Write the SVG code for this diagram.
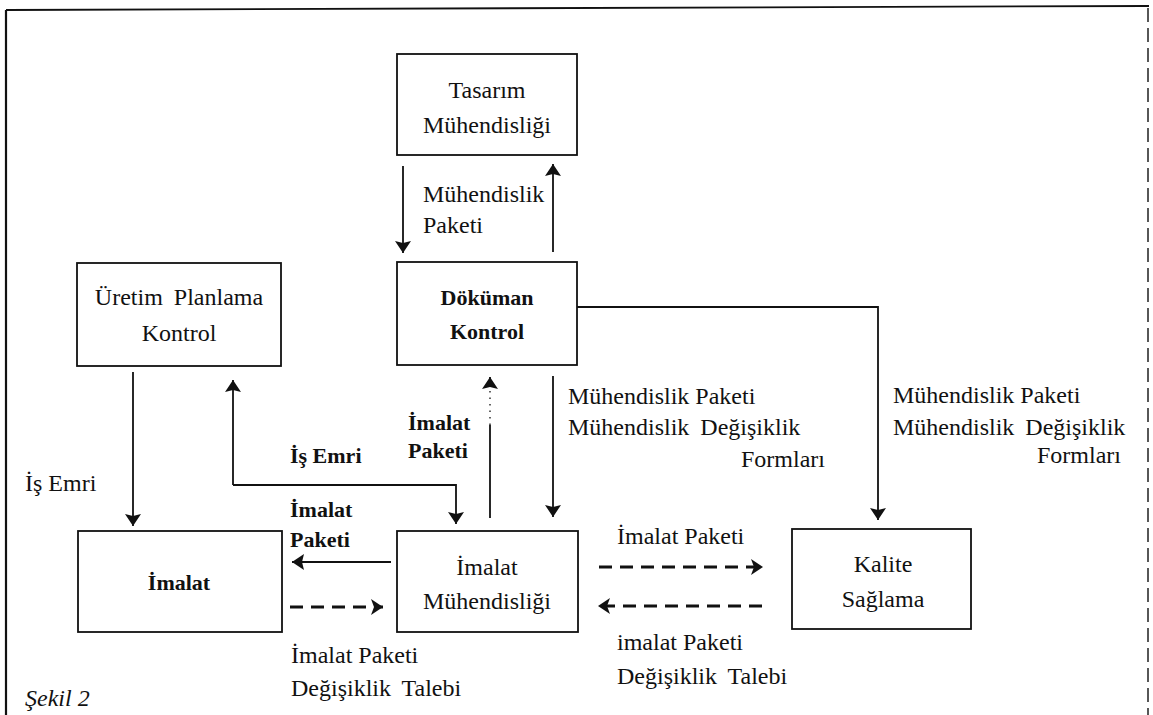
<svg xmlns="http://www.w3.org/2000/svg" width="1153" height="715" viewBox="0 0 1153 715">
<style>
  .box { fill: #fff; stroke: #111; stroke-width: 1.8; }
  .t { font-family: 'Liberation Serif', Tinos, 'Times New Roman', 'DejaVu Serif', 'Noto Serif', serif; font-size: 24px; fill: #111; }
  .b { font-family: 'Liberation Serif', Tinos, 'Times New Roman', 'DejaVu Serif', 'Noto Serif', serif; font-size: 22px; font-weight: bold; fill: #111; }
  .c { text-anchor: middle; }
  .ws { word-spacing: 5px; }
  .ln { fill: none; stroke: #111; stroke-width: 1.8; }
  .dl { fill: none; stroke: #111; stroke-width: 3.2; stroke-dasharray: 13 8; }
  .dot { fill: none; stroke: #111; stroke-width: 1.3; stroke-dasharray: 1.5 5; }
</style>
<defs>
  <marker id="ah" viewBox="0 0 12 16" refX="12" refY="8" markerWidth="12" markerHeight="16" markerUnits="userSpaceOnUse" orient="auto">
    <path d="M0,0 L12,8 L0,16 L2,8 z" fill="#111"/>
  </marker>
  <marker id="ahd" viewBox="0 0 12 16" refX="12" refY="8" markerWidth="12" markerHeight="16" markerUnits="userSpaceOnUse" orient="auto">
    <path d="M0,0 L12,8 L0,16 L3,8 z" fill="#111"/>
  </marker>
</defs>

<g id="frame">
  <line x1="6" y1="10" x2="1149" y2="6" stroke="#111" stroke-width="1.8"/>
  <line x1="6" y1="10" x2="6" y2="715" stroke="#111" stroke-width="2.2"/>
  <line x1="1148" y1="8" x2="1148" y2="715" stroke="#111" stroke-width="1.4" stroke-dasharray="14 6"/>
</g>

<g id="connectors">
  <line class="ln" x1="403" y1="166" x2="403" y2="253" marker-end="url(#ah)"/>
  <line class="ln" x1="553" y1="252" x2="553" y2="164" marker-end="url(#ah)"/>
  <line class="ln" x1="133" y1="372" x2="133" y2="526" marker-end="url(#ah)"/>
  <polyline class="ln" points="233,485 456,485 456,524" marker-end="url(#ah)"/>
  <line class="ln" x1="233" y1="485" x2="233" y2="380" marker-end="url(#ah)"/>
  <line class="ln" x1="490" y1="518" x2="490" y2="425"/>
  <line class="dot" x1="490" y1="425" x2="490" y2="385"/>
  <line class="ln" x1="490" y1="386" x2="490" y2="377" marker-end="url(#ah)"/>
  <line class="ln" x1="553" y1="376" x2="553" y2="517" marker-end="url(#ah)"/>
  <polyline class="ln" points="577,307 878,307 878,520" marker-end="url(#ah)"/>
  <line class="ln" x1="391" y1="562" x2="292" y2="562" marker-end="url(#ah)"/>
  <line class="dl" x1="290" y1="607" x2="383" y2="607" marker-end="url(#ahd)"/>
  <line class="dl" x1="599" y1="567" x2="763" y2="567" marker-end="url(#ahd)"/>
  <line class="dl" x1="762" y1="606" x2="598" y2="606" marker-end="url(#ahd)"/>
</g>

<g id="tasarim">
  <rect class="box" x="397" y="54" width="180" height="101"/>
  <text class="t c" x="487" y="98">Tasarım</text>
  <text class="t c" x="487" y="133">Mühendisliği</text>
</g>

<g id="dokuman">
  <rect class="box" x="397" y="262" width="180" height="103"/>
  <text class="b c" x="487" y="305">Döküman</text>
  <text class="b c" x="487" y="339">Kontrol</text>
</g>

<g id="uretim">
  <rect class="box" x="77" y="263" width="204" height="103"/>
  <text class="t c ws" x="179" y="305">Üretim Planlama</text>
  <text class="t c" x="179" y="341">Kontrol</text>
</g>

<g id="imalat">
  <rect class="box" x="78" y="531" width="204" height="101"/>
  <text class="b c" x="179" y="590">İmalat</text>
</g>

<g id="imalat-muh">
  <rect class="box" x="397" y="531" width="181" height="101"/>
  <text class="t c" x="487" y="575">İmalat</text>
  <text class="t c" x="487" y="609">Mühendisliği</text>
</g>

<g id="kalite">
  <rect class="box" x="792" y="529" width="179" height="100"/>
  <text class="t c" x="883" y="572">Kalite</text>
  <text class="t c" x="883" y="607">Sağlama</text>
</g>

<g id="labels">
  <text class="t" x="423" y="202">Mühendislik</text>
  <text class="t" x="423" y="233">Paketi</text>

  <text class="t" x="568" y="404">Mühendislik Paketi</text>
  <text class="t ws" x="568" y="435">Mühendislik Değişiklik</text>
  <text class="t" x="825" y="467" text-anchor="end">Formları</text>

  <text class="t" x="893" y="403">Mühendislik Paketi</text>
  <text class="t ws" x="893" y="435">Mühendislik Değişiklik</text>
  <text class="t" x="1121" y="463" text-anchor="end">Formları</text>

  <text class="t" x="25" y="491">İş Emri</text>
  <text class="b" x="290" y="463">İş Emri</text>
  <text class="b" x="408" y="430">İmalat</text>
  <text class="b" x="408" y="458">Paketi</text>
  <text class="b" x="290" y="517">İmalat</text>
  <text class="b" x="290" y="547">Paketi</text>

  <text class="t" x="617" y="544">İmalat Paketi</text>
  <text class="t" x="617" y="650">imalat Paketi</text>
  <text class="t ws" x="617" y="684">Değişiklik Talebi</text>

  <text class="t" x="291" y="663">İmalat Paketi</text>
  <text class="t ws" x="291" y="696">Değişiklik Talebi</text>

  <text class="t" x="25" y="706" font-style="italic">Şekil 2</text>
</g>
</svg>
